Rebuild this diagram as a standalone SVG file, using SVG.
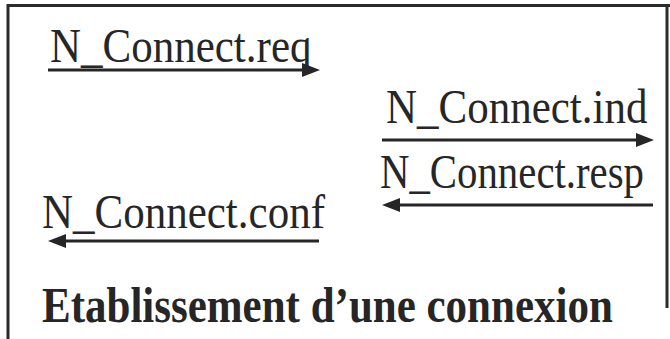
<svg xmlns="http://www.w3.org/2000/svg" width="670" height="339" viewBox="0 0 670 339">
<style>
.t{font-family:"Liberation Serif","Times New Roman",serif;font-size:43px;fill:#262626}
.b{font-weight:bold}
.frame{stroke:#2b2b2b;stroke-width:3;fill:none}
.c{stroke:#262626;stroke-width:3;fill:none}
.ah{fill:#262626}
</style>
<rect width="670" height="339" fill="#fff"/>
<path class="frame" d="M8,339 V5.5 H670"/>
<path class="frame" d="M667,5.5 V308"/>
<g id="req"><text class="t" transform="translate(50,62) scale(1,1.15)">N_Connect.req</text></g>
<g id="ind"><text class="t" transform="translate(386,123) scale(1,1.15)">N_Connect.ind</text></g>
<g id="resp"><text class="t" transform="translate(380,188) scale(1,1.15)" textLength="264" lengthAdjust="spacingAndGlyphs">N_Connect.resp</text></g>
<g id="conf"><text class="t" transform="translate(42,228) scale(1,1.15)">N_Connect.conf</text></g>
<g id="title"><text class="t b" transform="translate(42,322) scale(1,1.18)">Etablissement d’une connexion</text></g>
<g id="connectors">
<path class="c" d="M48,70 H304"/><path class="ah" d="M320,70 L302,63 L302,77 Z"/>
<path class="c" d="M382,140 H638"/><path class="ah" d="M654,140 L636,133 L636,147 Z"/>
<path class="c" d="M653,205 H398"/><path class="ah" d="M382,205 L400,198 L400,212 Z"/>
<path class="c" d="M319,241 H64"/><path class="ah" d="M48,241 L66,234 L66,248 Z"/>
</g>
</svg>
